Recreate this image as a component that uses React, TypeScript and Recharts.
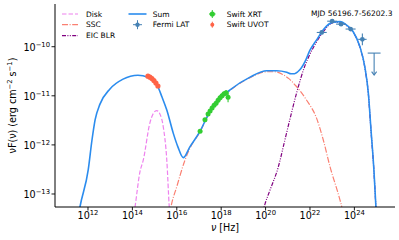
import React from 'react';
import { ComposedChart, Line, Scatter, XAxis, YAxis, ErrorBar, Customized } from 'recharts';

// log10(nu [Hz]) and log10(nuF(nu) [erg cm^-2 s^-1])
const sumLogNu = [11.50, 11.64, 12.01, 12.18, 12.32, 12.54, 12.99, 13.58, 14.25, 14.70, 15.15, 15.33, 15.55, 15.84, 16.05, 16.29, 16.59, 17.05, 17.41, 17.72, 18.40, 19.30, 20.05, 20.50, 20.95, 21.15, 21.30, 21.45, 21.60, 21.77, 22.00, 22.30, 22.59, 23.04, 23.35, 23.65, 23.94, 24.25, 24.47, 24.63, 24.75, 24.88, 24.97, 25.04];
const sumLogF = [-13.63, -13.26, -12.51, -11.90, -11.49, -11.17, -10.86, -10.66, -10.58, -10.62, -10.82, -11.02, -11.29, -11.76, -12.04, -12.26, -12.04, -11.72, -11.39, -11.16, -10.88, -10.62, -10.49, -10.49, -10.52, -10.55, -10.55, -10.51, -10.44, -10.31, -10.07, -9.86, -9.66, -9.50, -9.49, -9.56, -9.69, -10.00, -10.41, -10.95, -11.70, -12.51, -13.26, -13.94];

const diskLogNu = [14.03, 14.12, 14.34, 14.49, 14.79, 14.93, 15.09, 15.24, 15.39, 15.55, 15.66, 15.72];
const diskLogF = [-13.53, -13.26, -12.55, -12.31, -11.55, -11.37, -11.30, -11.37, -11.63, -12.31, -13.26, -13.64];

const sscLogNu = [15.60, 15.74, 16.00, 16.37, 16.59, 17.05, 17.41, 17.72, 18.40, 19.30, 20.05, 20.40, 20.75, 21.05, 21.35, 21.85, 22.30, 22.60, 22.90, 23.35, 23.43, 23.49];
const sscLogF = [-13.64, -13.26, -12.85, -12.31, -12.07, -11.73, -11.40, -11.17, -10.89, -10.63, -10.51, -10.51, -10.56, -10.65, -10.79, -11.09, -11.46, -11.90, -12.44, -13.12, -13.26, -13.43];

const eicLogNu = [19.84, 19.97, 20.20, 20.56, 20.87, 21.10, 21.41, 21.77, 22.00, 22.30, 22.59, 23.04, 23.35, 23.65, 23.94, 24.25, 24.47, 24.63, 24.75, 24.88, 24.97, 25.04];
const eicLogF = [-13.43, -13.21, -12.92, -12.47, -11.90, -11.47, -10.92, -10.39, -10.15, -9.90, -9.70, -9.51, -9.50, -9.57, -9.70, -10.01, -10.42, -10.96, -11.72, -12.53, -13.28, -13.94];

const fermiLogNu = [22.53, 23.00, 23.40, 23.83, 24.36];
const fermiLogF = [-9.71, -9.48, -9.54, -9.64, -9.85];
const fermiErrNu = [0.225, 0.225, 0.225, 0.225, 0.19];
const fermiErrF = [0.04, 0.03, 0.03, 0.04, 0.12];

const ulLogNu = [24.89];
const ulLogF = [-10.13];
const ulErrNu = [0.29];

const xrtLogNu = [17.05, 17.27, 17.41, 17.50, 17.59, 17.68, 17.77, 17.86, 17.95, 18.04, 18.13, 18.22, 18.31];
const xrtLogF = [-11.72, -11.49, -11.37, -11.31, -11.25, -11.19, -11.15, -11.09, -11.04, -11.00, -10.96, -10.94, -11.03];
const xrtErrF = [0.04, 0.04, 0.04, 0.04, 0.04, 0.04, 0.04, 0.05, 0.05, 0.05, 0.05, 0.06, 0.1];

const uvotLogNu = [14.70, 14.79, 14.88, 14.97, 15.06, 15.15];
const uvotLogF = [-10.60, -10.62, -10.65, -10.69, -10.74, -10.80];

const xTicks = [12, 14, 16, 18, 20, 22, 24];
const yTicks = [-13, -12, -11, -10];

const C_SUM = '#2b8cee';
const C_DISK = '#ee82ee';
const C_SSC = '#fa8072';
const C_EIC = '#800080';
const C_FERMI = '#4682b4';
const C_XRT = '#32cd32';
const C_UVOT = '#ff6347';
const FONT = 'DejaVu Sans';

const line = (xs: number[], ys: number[]) => xs.map((x, i) => ({ x, y: ys[i] }));
const sumData = line(sumLogNu, sumLogF);
const diskData = line(diskLogNu, diskLogF);
const sscData = line(sscLogNu, sscLogF);
const eicData = line(eicLogNu, eicLogF);
const fermiData = fermiLogNu.map((x, i) => ({ x, y: fermiLogF[i], ex: fermiErrNu[i], ey: fermiErrF[i] }));
const ulData = ulLogNu.map((x, i) => ({ x, y: ulLogF[i], ex: ulErrNu[i] }));
const xrtData = xrtLogNu.map((x, i) => ({ x, y: xrtLogF[i], ex: 0.05, ey: xrtErrF[i] }));
const uvotData = uvotLogNu.map((x, i) => ({ x, y: uvotLogF[i], ey: 0.02 }));

const XTick = (props: any) => {
  const { x, y, payload } = props;
  return (
    <text x={x} y={y + 6.5} textAnchor="middle" fontSize={9.6} fill="#000" fontFamily={FONT}>
      <tspan>10</tspan>
      <tspan dy={-4.2} fontSize={6.8}>{payload.value}</tspan>
    </text>
  );
};

const YTick = (props: any) => {
  const { x, y, payload } = props;
  return (
    <text x={x + 0.5} y={y + 4} textAnchor="end" fontSize={9.6} fill="#000" fontFamily={FONT}>
      <tspan>10</tspan>
      <tspan dy={-4.2} fontSize={6.8}>{'\u2212' + Math.abs(payload.value)}</tspan>
    </text>
  );
};

const YLabel = (props: any) => {
  const vb = props.viewBox || { x: 0, y: 4, width: 55, height: 203 };
  const cy = vb.y + vb.height / 2;
  return (
    <text transform={`translate(16,${cy}) rotate(-90)`} textAnchor="middle" fontSize={9.6} fill="#000" fontFamily={FONT}>
      <tspan>νF(ν) (erg cm</tspan>
      <tspan dy={-4} fontSize={6.8}>{'\u22122'}</tspan>
      <tspan dy={4}> s</tspan>
      <tspan dy={-4} fontSize={6.8}>{'\u22121'}</tspan>
      <tspan dy={4}>)</tspan>
    </text>
  );
};

const XLabel = (props: any) => {
  const vb = props.viewBox || { x: 55, y: 207, width: 340, height: 33 };
  const cx = vb.x + vb.width / 2;
  return (
    <text x={cx} y={231} textAnchor="middle" fontSize={9.6} fill="#000" fontFamily={FONT}>
      <tspan fontStyle="italic">ν</tspan>
      <tspan> [Hz]</tspan>
    </text>
  );
};

const Dot = (r: number, color: string) => (p: any) => (
  <circle cx={p.cx} cy={p.cy} r={r} fill={color} stroke="none" />
);

const UpperLimit = (p: any) => {
  const { cx, cy } = p;
  return (
    <g stroke={C_FERMI} strokeWidth={1.1} fill="none">
      <line x1={cx} y1={cy} x2={cx} y2={cy + 22} />
      <path d={`M${cx - 2.5},${cy + 18.5} L${cx},${cy + 22} L${cx + 2.5},${cy + 18.5}`} />
    </g>
  );
};

const LegendLayer = () => {
  const rows = [14, 24.7, 35.7];
  const ts = { fontSize: 7.5, fill: '#000', fontFamily: FONT } as any;
  return (
    <g>
      <line x1={62} x2={78} y1={rows[0]} y2={rows[0]} stroke={C_DISK} strokeWidth={1.2} strokeDasharray="4.5,2" />
      <text x={86} y={rows[0] + 2.7} {...ts}>Disk</text>
      <line x1={62} x2={78} y1={rows[1]} y2={rows[1]} stroke={C_SSC} strokeWidth={1.2} strokeDasharray="6,1.6,1,1.6" />
      <text x={86} y={rows[1] + 2.7} {...ts}>SSC</text>
      <line x1={62} x2={78} y1={rows[2]} y2={rows[2]} stroke={C_EIC} strokeWidth={1.2} strokeDasharray="4,1.4,1,1.4,1,1.4" />
      <text x={86} y={rows[2] + 2.7} {...ts}>EIC BLR</text>
      <line x1={128.5} x2={146.5} y1={rows[0]} y2={rows[0]} stroke={C_SUM} strokeWidth={1.6} />
      <text x={152.7} y={rows[0] + 2.7} {...ts}>Sum</text>
      <g stroke={C_FERMI} strokeWidth={1}>
        <line x1={133} x2={142} y1={rows[1]} y2={rows[1]} />
        <line x1={137.5} x2={137.5} y1={rows[1] - 4.5} y2={rows[1] + 4.5} />
      </g>
      <circle cx={137.5} cy={rows[1]} r={2.2} fill={C_FERMI} />
      <text x={152.7} y={rows[1] + 2.7} {...ts}>Fermi LAT</text>
      <g stroke={C_XRT} strokeWidth={1}>
        <line x1={209} x2={215.6} y1={rows[0]} y2={rows[0]} />
        <line x1={212.3} x2={212.3} y1={rows[0] - 4} y2={rows[0] + 4} />
      </g>
      <circle cx={212.3} cy={rows[0]} r={2.6} fill={C_XRT} />
      <text x={226.7} y={rows[0] + 2.7} {...ts}>Swift XRT</text>
      <line x1={212.3} x2={212.3} y1={rows[1] - 3} y2={rows[1] + 3} stroke={C_UVOT} strokeWidth={1} />
      <circle cx={212.3} cy={rows[1]} r={2} fill={C_UVOT} />
      <text x={226.7} y={rows[1] + 2.7} {...ts}>Swift UVOT</text>
      <text x={392.5} y={15.5} textAnchor="end" {...ts}>MJD 56196.7-56202.3</text>
    </g>
  );
};

export default function App() {
  return (
    <div style={{ position: 'absolute', left: 0, top: 0 }}>
      <ComposedChart width={399} height={240} margin={{ top: 4, right: 4, left: 0, bottom: 0 }} style={{ fontFamily: FONT }}>
        <XAxis
          dataKey="x"
          type="number"
          domain={[10.514, 25.83]}
          allowDataOverflow
          ticks={xTicks}
          interval={0}
          tick={<XTick />}
          tickSize={3.5}
          height={33}
          stroke="#000"
          axisLine={{ stroke: '#000', strokeWidth: 1 }}
          tickLine={{ stroke: '#000', strokeWidth: 0.9 }}
          label={<XLabel />}
        />
        <XAxis
          xAxisId="top"
          orientation="top"
          type="number"
          domain={[10.514, 25.83]}
          allowDataOverflow
          tick={false}
          tickLine={false}
          height={0}
          axisLine={{ stroke: '#000', strokeWidth: 1 }}
        />
        <YAxis
          type="number"
          domain={[-13.265, -9.13]}
          allowDataOverflow
          ticks={yTicks}
          interval={0}
          tick={<YTick />}
          tickSize={3.5}
          width={55}
          stroke="#000"
          axisLine={{ stroke: '#000', strokeWidth: 1 }}
          tickLine={{ stroke: '#000', strokeWidth: 0.9 }}
          label={<YLabel />}
        />
        <YAxis
          yAxisId="right"
          orientation="right"
          type="number"
          domain={[-13.265, -9.13]}
          allowDataOverflow
          tick={false}
          tickLine={false}
          width={0}
          axisLine={{ stroke: '#000', strokeWidth: 1 }}
        />
        <Line data={diskData} dataKey="y" type="monotone" stroke={C_DISK} strokeWidth={1.2} strokeDasharray="4.5,2" dot={false} activeDot={false} isAnimationActive={false} />
        <Line data={sscData} dataKey="y" type="monotone" stroke={C_SSC} strokeWidth={1.2} strokeDasharray="6,1.6,1,1.6" dot={false} activeDot={false} isAnimationActive={false} />
        <Line data={eicData} dataKey="y" type="monotone" stroke={C_EIC} strokeWidth={1.2} strokeDasharray="4,1.4,1,1.4,1,1.4" dot={false} activeDot={false} isAnimationActive={false} />
        <Line data={sumData} dataKey="y" type="monotone" stroke={C_SUM} strokeWidth={1.6} dot={false} activeDot={false} isAnimationActive={false} />
        <Scatter data={fermiData} dataKey="y" fill={C_FERMI} shape={Dot(2.4, C_FERMI)} isAnimationActive={false}>
          <ErrorBar dataKey="ex" direction="x" width={0} stroke={C_FERMI} strokeWidth={1.1} />
          <ErrorBar dataKey="ey" direction="y" width={0} stroke={C_FERMI} strokeWidth={1.1} />
        </Scatter>
        <Scatter data={ulData} dataKey="y" fill={C_FERMI} shape={UpperLimit} isAnimationActive={false}>
          <ErrorBar dataKey="ex" direction="x" width={0} stroke={C_FERMI} strokeWidth={1.1} />
        </Scatter>
        <Scatter data={xrtData} dataKey="y" fill={C_XRT} shape={Dot(2.5, C_XRT)} isAnimationActive={false}>
          <ErrorBar dataKey="ex" direction="x" width={0} stroke={C_XRT} strokeWidth={1.1} />
          <ErrorBar dataKey="ey" direction="y" width={0} stroke={C_XRT} strokeWidth={1.1} />
        </Scatter>
        <Scatter data={uvotData} dataKey="y" fill={C_UVOT} shape={Dot(2.6, C_UVOT)} isAnimationActive={false}>
          <ErrorBar dataKey="ey" direction="y" width={0} stroke={C_UVOT} strokeWidth={1} />
        </Scatter>
        <Customized component={<LegendLayer />} />
      </ComposedChart>
    </div>
  );
}
